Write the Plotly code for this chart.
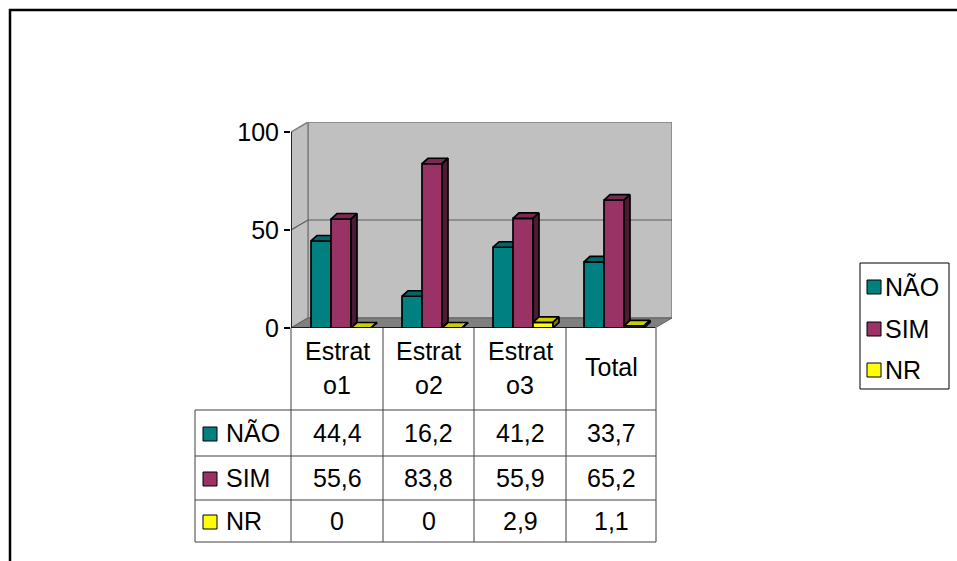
import plotly.graph_objects as go

# ---- data -------------------------------------------------------------
categories = ["Estrato1", "Estrato2", "Estrato3", "Total"]
series_names = ["NÃO", "SIM", "NR"]
nao = [44.4, 16.2, 41.2, 33.7]
sim = [55.6, 83.8, 55.9, 65.2]
nr = [0, 0, 2.9, 1.1]
y_ticks = [0, 50, 100]

series_values = [nao, sim, nr]
series_colors = ["#008080", "#993366", "#FFFF00"]
top_colors = ["#006666", "#7A2952", "#CCCC00"]
side_colors = ["#004040", "#4D1A33", "#808000"]

W, H = 957, 561
FONT = "Arial, Liberation Sans, sans-serif"
FSIZE = 25


def px(x):
    return x / W


def py(y):
    return 1 - y / H


# ---- plot geometry (pixels -> data units) -----------------------------
X0, X1 = 291, 672          # plot area left/right (px)
Y0, Y1 = 328, 122          # plot area bottom/top (px)
PX_PER_CAT = 91.0
WDX = 17 / PX_PER_CAT      # depth of the 3-D walls along x
y_top = 100 + 10 / ((Y0 - Y1 - 10) / 100)
PX_PER_VAL = (Y0 - Y1) / y_top
WDY = 10 / PX_PER_VAL      # depth of the 3-D walls along y
x_lo, x_hi = -0.5, 3.5 + WDX

BAR_W = 20 / PX_PER_CAT
BAR_GAP = 20 / PX_PER_CAT
BDX = 6 / PX_PER_CAT
BDY = 5.5 / PX_PER_VAL

fig = go.Figure()

# ---- 3-D column faces drawn as filled polygons ------------------------
for s, vals in enumerate(series_values):
    fx, fy, tx, ty, sx, sy = [], [], [], [], [], []
    for i, v in enumerate(vals):
        l = i - 0.5 + BAR_GAP + s * BAR_W
        r = l + BAR_W
        fx += [l, r, r, l, l, None]
        fy += [0, 0, v, v, 0, None]
        tx += [l, r, r + BDX, l + BDX, l, None]
        ty += [v, v, v + BDY, v + BDY, v, None]
        sx += [r, r + BDX, r + BDX, r, r, None]
        sy += [0, BDY, v + BDY, v, 0, None]
    for xs, ys, col in ((fx, fy, series_colors[s]),
                        (tx, ty, top_colors[s]),
                        (sx, sy, side_colors[s])):
        fig.add_trace(go.Scatter(
            x=xs, y=ys, mode="lines", fill="toself", fillcolor=col,
            line=dict(color="black", width=1.7), name=series_names[s],
            showlegend=False, hoverinfo="skip"))

shapes = []
# back wall
shapes.append(dict(type="rect", xref="x", yref="y", layer="below",
                   x0=x_lo + WDX, x1=x_hi, y0=WDY, y1=100 + WDY,
                   fillcolor="#C0C0C0", line=dict(color="#808080", width=1.5)))
# side wall
shapes.append(dict(type="path", xref="x", yref="y", layer="below",
                   path=f"M {x_lo},0 L {x_lo + WDX},{WDY} L {x_lo + WDX},{100 + WDY} L {x_lo},100 Z",
                   fillcolor="#C0C0C0", line=dict(color="#808080", width=1.5)))
# floor
shapes.append(dict(type="path", xref="x", yref="y", layer="below",
                   path=f"M {x_lo},0 L {x_lo + WDX},{WDY} L {x_hi},{WDY} L {x_hi - WDX},0 Z",
                   fillcolor="#808080", line=dict(color="#606060", width=1)))
# gridline at 50 on side and back walls
shapes.append(dict(type="path", xref="x", yref="y", layer="below",
                   path=f"M {x_lo},50 L {x_lo + WDX},{50 + WDY} L {x_hi},{50 + WDY}",
                   line=dict(color="#5A5A5A", width=1.2)))
# value axis and category axis lines
shapes.append(dict(type="line", xref="x", yref="y", x0=x_lo, x1=x_lo, y0=0, y1=100,
                   line=dict(color="black", width=1.5)))
shapes.append(dict(type="line", xref="x", yref="y", x0=x_lo, x1=x_hi - WDX, y0=0, y1=0,
                   line=dict(color="black", width=1.5)))

# ---- data table -------------------------------------------------------
TBL_L = 195
col_edges = [291, 383, 474, 566, 656]
row_edges = [410, 456, 500, 542]
line_col = "#404040"
for xe in col_edges:
    shapes.append(dict(type="line", xref="paper", yref="paper",
                       x0=px(xe), x1=px(xe), y0=py(Y0), y1=py(row_edges[-1]),
                       line=dict(color=line_col, width=1)))
shapes.append(dict(type="line", xref="paper", yref="paper",
                   x0=px(TBL_L), x1=px(TBL_L), y0=py(row_edges[0]), y1=py(row_edges[-1]),
                   line=dict(color=line_col, width=1)))
for ye in row_edges:
    shapes.append(dict(type="line", xref="paper", yref="paper",
                       x0=px(TBL_L), x1=px(col_edges[-1]), y0=py(ye), y1=py(ye),
                       line=dict(color=line_col, width=1)))

annotations = []
TXT = dict(family=FONT, size=FSIZE, color="black")


def wrap(label, n=6):
    return [label[k:k + n] for k in range(0, len(label), n)]


for i, cat in enumerate(categories):
    cx = (col_edges[i] + col_edges[i + 1]) / 2
    lines = wrap(cat)
    centers = [367] if len(lines) == 1 else [351, 385]
    for ln, cy in zip(lines, centers):
        annotations.append(dict(x=px(cx), y=py(cy), xref="paper", yref="paper",
                                text=ln, showarrow=False, font=TXT,
                                xanchor="center", yanchor="middle"))

for s, vals in enumerate(series_values):
    cy = (row_edges[s] + row_edges[s + 1]) / 2
    shapes.append(dict(type="rect", xref="paper", yref="paper",
                       x0=px(203), x1=px(217), y0=py(cy - 6), y1=py(cy + 8),
                       fillcolor=series_colors[s], line=dict(color="black", width=1)))
    annotations.append(dict(x=px(224), y=py(cy), xref="paper", yref="paper",
                            text=series_names[s], showarrow=False, font=TXT,
                            xanchor="left", yanchor="middle"))
    for i, v in enumerate(vals):
        cx = (col_edges[i] + col_edges[i + 1]) / 2
        annotations.append(dict(x=px(cx), y=py(cy), xref="paper", yref="paper",
                                text=f"{v:g}".replace(".", ","), showarrow=False,
                                font=TXT, xanchor="center", yanchor="middle"))

# ---- legend box -------------------------------------------------------
shapes.append(dict(type="rect", xref="paper", yref="paper",
                   x0=px(860), x1=px(949), y0=py(263), y1=py(389),
                   fillcolor="white", line=dict(color="black", width=1)))
for s, cy in zip(range(3), [287, 329, 370]):
    shapes.append(dict(type="rect", xref="paper", yref="paper",
                       x0=px(867), x1=px(881), y0=py(cy - 7), y1=py(cy + 7),
                       fillcolor=series_colors[s], line=dict(color="black", width=1)))
    annotations.append(dict(x=px(883), y=py(cy), xref="paper", yref="paper",
                            text=series_names[s], showarrow=False, font=TXT,
                            xanchor="left", yanchor="middle"))

# ---- outer chart frame (top and left edges, running off the page) ------
shapes.append(dict(type="line", xref="paper", yref="paper",
                   x0=px(9), x1=1, y0=py(10), y1=py(10),
                   line=dict(color="black", width=2.5)))
shapes.append(dict(type="line", xref="paper", yref="paper",
                   x0=px(10), x1=px(10), y0=py(9), y1=0,
                   line=dict(color="black", width=2.5)))

fig.update_layout(
    width=W, height=H,
    autosize=False,
    margin=dict(l=0, r=0, t=0, b=0, pad=0, autoexpand=False),
    paper_bgcolor="white", plot_bgcolor="rgba(0,0,0,0)",
    showlegend=False,
    font=dict(family=FONT, size=FSIZE, color="black"),
    xaxis=dict(domain=[px(X0), px(X1)], range=[x_lo, x_hi], visible=False,
               fixedrange=True, automargin=False),
    yaxis=dict(domain=[py(Y0), py(Y1)], range=[0, y_top],
               tickvals=y_ticks, ticktext=[str(t) for t in y_ticks],
               ticks="outside", ticklen=6, tickwidth=1.5, tickcolor="black",
               showgrid=False, zeroline=False, showline=False, automargin=False,
               tickfont=dict(family=FONT, size=FSIZE, color="black"), fixedrange=True),
    shapes=shapes,
    annotations=annotations,
)

fig.write_html("out.html")
